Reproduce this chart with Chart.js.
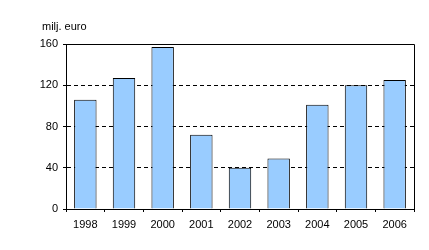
<!DOCTYPE html>
<html><head><meta charset="utf-8">
<script src="https://cdn.jsdelivr.net/npm/chart.js@4/dist/chart.umd.min.js"></script>
<style>html,body{margin:0;padding:0;background:#fff}canvas{display:block}</style>
</head><body>
<canvas id="c" width="429" height="250"></canvas>
<script>
const categories = ['1998','1999','2000','2001','2002','2003','2004','2005','2006'];
const values = [106, 127, 157, 72, 40, 49, 101, 120, 125];
const yTicks = [0, 40, 80, 120, 160];
const unitLabel = 'milj. euro';

const frame = {
  id: 'frame',
  afterDraw(chart) {
    const {ctx, chartArea: a} = chart;
    ctx.save();
    ctx.strokeStyle = '#000';
    ctx.lineWidth = 1;
    ctx.setLineDash([]);
    ctx.beginPath();
    ctx.moveTo(a.left, a.top + 0.5);
    ctx.lineTo(a.right + 0.5, a.top + 0.5);
    ctx.lineTo(a.right + 0.5, a.bottom);
    ctx.stroke();
    ctx.fillStyle = '#000';
    ctx.font = '11px "Liberation Sans", Arial, sans-serif';
    ctx.textBaseline = 'alphabetic';
    ctx.textAlign = 'left';
    ctx.fillText(unitLabel, 42, 30);
    ctx.restore();
  }
};

new Chart(document.getElementById('c'), {
  type: 'bar',
  data: {
    labels: categories,
    datasets: [{
      data: values,
      backgroundColor: '#99CCFF',
      borderColor: '#000',
      borderWidth: 1,
      barPercentage: 0.58,
      categoryPercentage: 1.0
    }]
  },
  options: {
    responsive: false,
    animation: false,
    devicePixelRatio: 1,
    layout: { padding: { left: 0, right: 15, top: 44, bottom: 0 } },
    plugins: { legend: { display: false }, tooltip: { enabled: false }, title: { display: false } },
    scales: {
      x: {
        offset: true,
        grid: { offset: true, drawOnChartArea: false, drawTicks: true, tickLength: 3, color: '#000', tickColor: '#000' },
        border: { color: '#000', width: 1 },
        ticks: { color: '#000', font: { family: '"Liberation Sans", Arial, sans-serif', size: 11 }, padding: 6, maxRotation: 0, autoSkip: false },
        afterFit(s) { s.height = 41; }
      },
      y: {
        min: 0, max: 160,
        afterBuildTicks(s) { s.ticks = yTicks.map(v => ({ value: v })); },
        grid: { color: '#000', lineWidth: 1, drawTicks: true, tickLength: 3, tickColor: '#000', tickBorderDash: [] },
        border: { color: '#000', width: 1, dash: [4, 3] },
        ticks: { color: '#000', font: { family: '"Liberation Sans", Arial, sans-serif', size: 11 }, padding: 5 },
        afterFit(s) { s.width = 66; }
      }
    }
  },
  plugins: [frame]
});
</script>
</body></html>
